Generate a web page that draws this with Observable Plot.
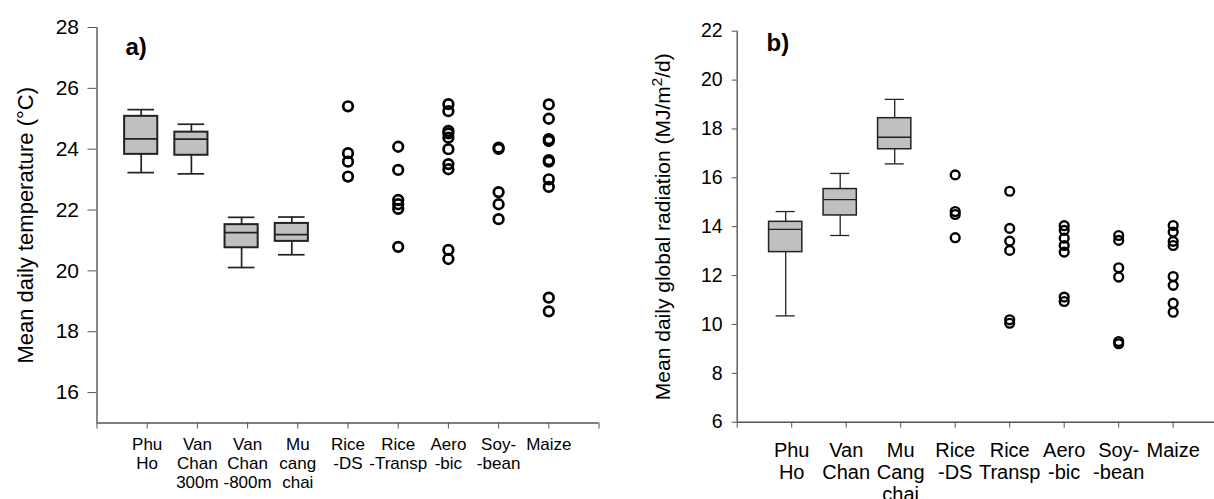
<!DOCTYPE html>
<html><head><meta charset="utf-8">
<script src="https://cdn.jsdelivr.net/npm/d3@7"></script>
<script src="https://cdn.jsdelivr.net/npm/@observablehq/plot@0.6"></script>
<style>
html,body{margin:0;padding:0;background:#fff;overflow:hidden;}
#wrap{position:relative;width:1214px;height:499px;}
#pa{position:absolute;left:0;top:0;}
#pb{position:absolute;left:600px;top:0;}
</style></head><body>
<div id="wrap"><div id="pa"></div><div id="pb"></div></div>
<script>
const FONT = "Liberation Sans, Arial, Helvetica, sans-serif";

// ---------- Panel a) temperature ----------
const xLabelsA = ["Phu\nHo", "Van\nChan\n300m", "Van\nChan\n-800m", "Mu\ncang\nchai", "Rice\n-DS", "Rice\n-Transp", "Aero\n-bic", "Soy-\n-bean", "Maize"];
const yTicksA = [16, 18, 20, 22, 24, 26, 28];
const yTitleA = "Mean daily temperature (°C)";
// box plots: Phu Ho, Van Chan 300m, Van Chan -800m, Mu cang chai
const boxLowA  = [23.23, 23.19, 20.11, 20.53];
const boxQ1A   = [23.83, 23.80, 20.76, 20.97];
const boxMedA  = [24.34, 24.33, 21.26, 21.19];
const boxQ3A   = [25.08, 24.56, 21.52, 21.56];
const boxHighA = [25.30, 24.82, 21.76, 21.77];
// point series
const riceDsA     = [25.41, 23.87, 23.59, 23.10];
const riceTranspA = [24.08, 23.32, 22.33, 22.19, 22.04, 20.79];
const aerobicA    = [25.48, 25.25, 24.60, 24.52, 24.38, 24.00, 23.51, 23.34, 20.69, 20.39];
const soybeanA    = [24.05, 24.01, 22.59, 22.19, 21.70];
const maizeA      = [25.47, 25.00, 24.33, 24.27, 23.64, 23.59, 23.01, 22.76, 19.12, 18.67];

// ---------- Panel b) radiation ----------
const xLabelsB = ["Phu\nHo", "Van\nChan", "Mu\nCang\nchai", "Rice\n-DS", "Rice\nTransp", "Aero\n-bic", "Soy-\n-bean", "Maize"];
const yTicksB = [6, 8, 10, 12, 14, 16, 18, 20, 22];
const yTitleB = "Mean daily global radiation (MJ/m²/d)";
// box plots: Phu Ho, Van Chan, Mu Cang chai
const boxLowB  = [10.35, 13.64, 16.57];
const boxQ1B   = [12.96, 14.46, 17.17];
const boxMedB  = [13.89, 15.11, 17.66];
const boxQ3B   = [14.20, 15.54, 18.44];
const boxHighB = [14.62, 16.18, 19.21];
const riceDsB     = [16.12, 14.62, 14.50, 13.55];
const riceTranspB = [15.45, 13.93, 13.41, 13.03, 10.19, 10.05];
const aerobicB    = [14.04, 13.85, 13.53, 13.23, 12.96, 11.12, 10.94];
const soybeanB    = [13.64, 13.44, 12.32, 11.94, 9.30, 9.21];
const maizeB      = [14.05, 13.78, 13.40, 13.23, 11.96, 11.60, 10.87, 10.50];

function boxRows(low, q1, med, q3, high) {
  return low.map((l, k) => ({pos: k + 1, low: l, q1: q1[k], med: med[k], q3: q3[k], high: high[k]}));
}
function pointRows(series, start) {
  return series.flatMap((vals, k) => vals.map(v => ({pos: start + k, v})));
}

function panel(o) {
  const off = -6;
  return Plot.plot({
    width: o.width, height: 499,
    marginLeft: o.marginLeft, marginRight: o.marginRight, marginTop: o.marginTop, marginBottom: o.marginBottom,
    x: {domain: o.xDomain},
    y: {domain: o.yDomain},
    style: {fontFamily: FONT, color: "black", background: "white"},
    marks: [
      Plot.axisY({ticks: o.yTicks, tickSize: o.yTickSize, tickPadding: o.yTickPadding, fontSize: o.tickFont, stroke: "#555", fill: "black", label: null, tickFormat: d => String(d)}),
      Plot.axisX({ticks: o.xTicks, tickSize: 6, tickFormat: () => "", label: null, stroke: "#555"}),
      Plot.ruleX([o.xDomain[0]], {stroke: "#555", strokeWidth: 1.4}),
      Plot.ruleY([o.yDomain[0]], {stroke: "#555", strokeWidth: 1.4}),
      Plot.ruleX(o.boxes, {x: "pos", y1: "low", y2: "high", dx: off, stroke: "#222", strokeWidth: o.lineW}),
      Plot.ruleY(o.boxes, {y: "low", x1: d => d.pos - o.capHalf, x2: d => d.pos + o.capHalf, dx: off, stroke: "#222", strokeWidth: o.lineW}),
      Plot.ruleY(o.boxes, {y: "high", x1: d => d.pos - o.capHalf, x2: d => d.pos + o.capHalf, dx: off, stroke: "#222", strokeWidth: o.lineW}),
      Plot.rect(o.boxes, {x1: d => d.pos - o.boxHalf, x2: d => d.pos + o.boxHalf, y1: "q1", y2: "q3", dx: off, fill: "#c0c0c0", stroke: "#222", strokeWidth: o.boxW}),
      Plot.ruleY(o.boxes, {y: "med", x1: d => d.pos - o.boxHalf, x2: d => d.pos + o.boxHalf, dx: off, stroke: "#222", strokeWidth: o.lineW}),
      Plot.dot(o.points, {x: "pos", y: "v", r: o.r, stroke: "black", strokeWidth: o.dotW, fill: "none"}),
      Plot.text(o.labels, {x: (d, i) => i + 1, text: d => d, frameAnchor: "bottom", lineAnchor: "top", dy: o.xDy, fontSize: o.xFont, lineHeight: o.xLineHeight, fill: "black"}),
      Plot.text([o.title], {frameAnchor: "left", rotate: -90, dx: o.titleDx, textAnchor: "middle", lineAnchor: "middle", fontSize: o.titleFont, fill: "black"}),
      Plot.text([o.tag], {frameAnchor: "top-left", dx: o.tagDx, dy: o.tagDy, textAnchor: "start", lineAnchor: "bottom", fontSize: 24, fontWeight: "bold", fill: "black"})
    ]
  });
}

const chartA = panel({
  width: 600, marginLeft: 96.5, marginRight: 1.5, marginTop: 27, marginBottom: 76.5,
  xDomain: [0, 10], xTicks: d3.range(0, 11), yDomain: [15, 28], yTicks: yTicksA,
  yTickSize: 9, yTickPadding: 9, tickFont: 21,
  boxes: boxRows(boxLowA, boxQ1A, boxMedA, boxQ3A, boxHighA),
  points: pointRows([riceDsA, riceTranspA, aerobicA, soybeanA, maizeA], 5),
  boxHalf: 0.33, capHalf: 0.265, lineW: 1.7, boxW: 2, r: 4.8, dotW: 2.7,
  labels: xLabelsA, xDy: 13, xFont: 17, xLineHeight: 1.13,
  title: yTitleA, titleDx: -71.5, titleFont: 22,
  tag: "a)", tagDx: 28.5, tagDy: 27.5
});

const chartB = panel({
  width: 614, marginLeft: 136.7, marginRight: 0, marginTop: 30.7, marginBottom: 77.3,
  xDomain: [0, 8.758], xTicks: d3.range(0, 9), yDomain: [6, 22], yTicks: yTicksB,
  yTickSize: 5, yTickPadding: 9.5, tickFont: 19.5,
  boxes: boxRows(boxLowB, boxQ1B, boxMedB, boxQ3B, boxHighB),
  points: pointRows([riceDsB, riceTranspB, aerobicB, soybeanB, maizeB], 4),
  boxHalf: 0.305, capHalf: 0.175, lineW: 1.3, boxW: 1.5, r: 4.4, dotW: 2.4,
  labels: xLabelsB, xDy: 19, xFont: 20, xLineHeight: 1.1,
  title: yTitleB, titleDx: -73.7, titleFont: 21,
  tag: "b)", tagDx: 29.3, tagDy: 19.3
});

document.getElementById("pa").appendChild(chartA);
document.getElementById("pb").appendChild(chartB);

// superscript 2 in the radiation unit
d3.select(chartB).selectAll("text").filter(function () { return this.textContent.includes("²") && this.childElementCount === 0; })
  .each(function () {
    const parts = this.textContent.split("²");
    const s = d3.select(this);
    s.text(null);
    s.append("tspan").text(parts[0]);
    s.append("tspan").attr("baseline-shift", "super").attr("font-size", "0.72em").text("2");
    s.append("tspan").text(parts[1]);
  });
</script>
</body></html>
